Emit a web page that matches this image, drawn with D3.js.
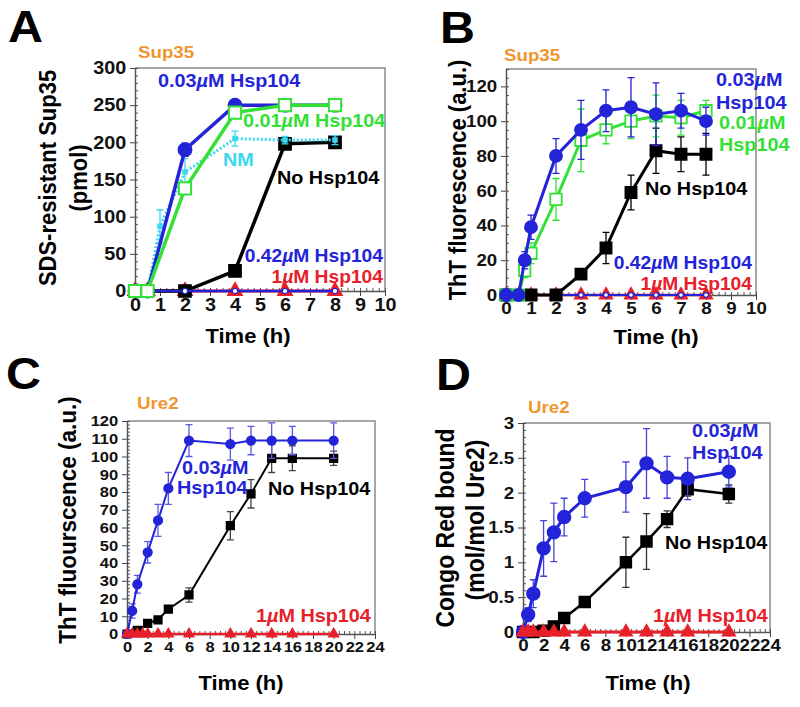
<!DOCTYPE html>
<html><head><meta charset="utf-8">
<script src="https://cdn.jsdelivr.net/npm/d3@7"></script>
<style>body{margin:0;background:#fff}</style>
</head><body><svg id="c" width="800" height="707" xmlns="http://www.w3.org/2000/svg"></svg>
<script>
// ---------- DATA ----------
// Panel A: Sup35, SDS-resistant Sup35 (pmol)
const aTime = [0, 0.5, 2, 4, 6, 8];
const aHsp003 = [0, 0, 190, 250, 250, 250];
const aHsp003Err = [0, 0, 9, 3, 0, 0];
const aHsp001 = [0, 0, 138, 240, 250, 250];
const aHsp001Err = [0, 0, 6, 5, 3, 3];
const aNMTime = [0, 0.5, 1, 2, 4, 6, 8];
const aNM = [0, 0, 87, 160, 205, 203, 203];
const aNMErr = [0, 0, 22, 18, 10, 5, 6];
const aNoTime = [0, 2, 4, 6, 8];
const aNoHsp = [0, 0, 27, 198, 200];
const aNoHspErr = [0, 0, 2, 6, 8];
const aHsp042 = [0, 0, 0, 0, 0, 0];
const aHsp1 = [0, 0, 0, 0, 0, 0];
const aXTicks = [0, 1, 2, 3, 4, 5, 6, 7, 8, 9, 10];
const aYTicks = [0, 50, 100, 150, 200, 250, 300];

// Panel B: Sup35, ThT fluorescence
const bTime = [0, 0.5, 0.75, 1, 2, 3, 4, 5, 6, 7, 8];
const bHsp003 = [0, 0, 20, 39, 80, 95, 106, 108, 104, 106, 100];
const bHsp003Err = [0, 0, 5, 7, 10, 17, 12, 17, 18, 10, 8];
const bHsp001 = [0, 0, 14, 24, 55, 89, 95, 100, 103, 102, 106];
const bHsp001Err = [0, 0, 4, 6, 12, 18, 8, 10, 12, 10, 6];
const bNoTime = [0, 1, 2, 3, 4, 5, 6, 7, 8];
const bNoHsp = [0, 0, 0, 12, 27, 59, 83, 81, 81];
const bNoHspErr = [0, 0, 0, 2, 9, 10, 13, 10, 12];
const bZeroTime = [0, 0.5, 1, 2, 3, 4, 5, 6, 7, 8];
const bHsp042 = [0, 0, 0, 0, 0, 0, 0, 0, 0, 0];
const bHsp1 = [0, 0, 0, 0, 0, 0, 0, 0, 0, 0];
const bXTicks = [0, 1, 2, 3, 4, 5, 6, 7, 8, 9, 10];
const bYTicks = [0, 20, 40, 60, 80, 100, 120];

// Panel C: Ure2, ThT fluorescence
const cTime = [0, 0.5, 1, 2, 3, 4, 6, 10, 12, 14, 16, 20];
const cHsp003 = [0, 13, 28, 46, 64, 82, 109, 107, 109, 109, 109, 109];
const cHsp003Err = [0, 4, 5, 6, 9, 9, 9, 9, 8, 10, 8, 10];
const cNoTime = [0, 1, 2, 3, 4, 6, 10, 12, 14, 16, 20];
const cNoHsp = [0, 2, 6, 8, 14, 22, 61, 79, 99, 99, 99];
const cNoHspErr = [0, 1, 1, 1, 2, 4, 8, 8, 8, 7, 4];
const cRedTime = [0, 0.5, 1, 1.5, 2, 3, 4, 6, 10, 12, 14, 16, 20];
const cHsp1 = [0, 0, 0, 0, 0, 0, 0, 0, 0, 0, 0, 0, 0];
const cXTicks = [0, 2, 4, 6, 8, 10, 12, 14, 16, 18, 20, 22, 24];
const cYTicks = [0, 10, 20, 30, 40, 50, 60, 70, 80, 90, 100, 110, 120];

// Panel D: Ure2, Congo Red bound
const dTime = [0, 0.5, 1, 2, 3, 4, 6, 10, 12, 14, 16, 20];
const dHsp003 = [0, 0.25, 0.55, 1.2, 1.43, 1.65, 1.92, 2.08, 2.42, 2.22, 2.2, 2.3];
const dHsp003Err = [0, 0.1, 0.2, 0.4, 0.42, 0.27, 0.27, 0.36, 0.5, 0.3, 0.3, 0.22];
const dNoTime = [0, 1, 2, 3, 4, 6, 10, 12, 14, 16, 20];
const dNoHsp = [0, 0, 0.02, 0.08, 0.2, 0.43, 1.0, 1.3, 1.62, 2.05, 1.98];
const dNoHspErr = [0, 0, 0, 0, 0, 0, 0.36, 0.4, 0.12, 0.1, 0.13];
const dHsp1 = [0, 0, 0, 0, 0, 0, 0, 0, 0, 0, 0, 0];
const dXTicks = [0, 2, 4, 6, 8, 10, 12, 14, 16, 18, 20, 22, 24];
const dYTicks = [0, 0.5, 1, 1.5, 2, 2.5, 3];

// ---------- STYLE ----------
const BLUE = "#2323d8", GREEN = "#33e036", CYAN = "#3ad8ee", RED = "#e8202a", ORANGE = "#f0952e", BLACK = "#000";
const FONT = '"Liberation Sans", Arial, Helvetica, sans-serif';
const SX = 1.1;
const svg = d3.select("#c");

function txt(g, x, y, s, o) {
  const t = g.append("text")
    .attr("transform", `translate(${x},${y}) scale(${SX},1)` + (o.rot ? ` rotate(${o.rot})` : ""))
    .attr("font-family", FONT).attr("font-size", o.size).attr("font-weight", "bold")
    .attr("fill", o.color || "#000").attr("text-anchor", o.anchor || "start");
  if (o.dy) t.attr("dy", o.dy);
  s.split("µ").forEach((p, i) => {
    if (i > 0) t.append("tspan").attr("font-style", "italic").text("µ");
    t.append("tspan").text(p);
  });
  return t;
}

function makePanel(cfg) {
  const g = svg.append("g");
  const x = d3.scaleLinear().domain(cfg.xDomain).range([cfg.left, cfg.right]);
  const y = d3.scaleLinear().domain(cfg.yDomain).range([cfg.bottom, cfg.top]);
  g.append("path").attr("d", `M${cfg.left},${cfg.top}H${cfg.right}V${cfg.bottom}`)
    .attr("fill", "none").attr("stroke", "#8a8a8a").attr("stroke-width", 1.5);
  const styleAxis = (sel, size) => {
    sel.select(".domain").attr("stroke", "#555").attr("stroke-width", 1.5);
    sel.selectAll(".tick line").attr("stroke", "#444").attr("stroke-width", 1);
    sel.selectAll(".tick text").attr("font-family", FONT).attr("font-weight", "bold")
      .attr("font-size", size).attr("fill", "#111")
      .attr("transform", `scale(${SX},1)`);
  };
  // minor ticks (inward)
  g.append("g").attr("transform", `translate(${cfg.left},0)`)
    .call(d3.axisLeft(y).tickValues(cfg.yMinor).tickSize(-3).tickSizeOuter(0).tickFormat(""))
    .call(s => { s.select(".domain").remove(); s.selectAll("line").attr("stroke", "#555"); });
  g.append("g").attr("transform", `translate(0,${cfg.bottom})`)
    .call(d3.axisBottom(x).tickValues(cfg.xMinor).tickSize(-3).tickSizeOuter(0).tickFormat(""))
    .call(s => { s.select(".domain").remove(); s.selectAll("line").attr("stroke", "#555"); });
  // major
  g.append("g").attr("transform", `translate(${cfg.left},0)`)
    .call(d3.axisLeft(y).tickValues(cfg.yTicks).tickSize(5).tickSizeOuter(0).tickPadding(3).tickFormat(d => d))
    .call(s => styleAxis(s, cfg.tickFont));
  g.append("g").attr("transform", `translate(0,${cfg.bottom})`)
    .call(d3.axisBottom(x).tickValues(cfg.xTicks).tickSize(5).tickSizeOuter(0).tickPadding(cfg.xPad || 2).tickFormat(d => d))
    .call(s => styleAxis(s, cfg.tickFont));
  return { g, x, y };
}

function drawSeries(p, xs, ys, es, st) {
  const { g, x, y } = p;
  const pts = xs.map((t, i) => ({ t, v: ys[i], e: es ? es[i] : 0 }));
  const cap = st.cap || 3.5;
  pts.filter(d => d.e > 0).forEach(d => {
    g.append("path")
      .attr("d", `M${x(d.t)},${y(d.v - d.e)}V${y(d.v + d.e)}M${x(d.t) - cap},${y(d.v + d.e)}h${2 * cap}M${x(d.t) - cap},${y(d.v - d.e)}h${2 * cap}`)
      .attr("stroke", st.errColor || st.color).attr("stroke-width", 1.3).attr("fill", "none");
  });
  g.append("path").datum(pts)
    .attr("d", d3.line().x(d => x(d.t)).y(d => y(d.v)))
    .attr("fill", "none").attr("stroke", st.color).attr("stroke-width", st.width)
    .attr("stroke-dasharray", st.dash || null);
  if (st.symbol) {
    g.selectAll(null).data(pts).join("path")
      .attr("transform", d => `translate(${x(d.t)},${y(d.v)})`)
      .attr("d", d3.symbol(st.symbol, st.size))
      .attr("fill", st.fill).attr("stroke", st.stroke || st.color).attr("stroke-width", st.sw || 1.5);
  }
}

// ---------- PANEL A ----------
const pA = makePanel({ left: 135, right: 385, top: 68, bottom: 291, xDomain: [0, 10], yDomain: [0, 300],
  xTicks: aXTicks, yTicks: aYTicks, xMinor: d3.range(0, 10.001, 0.25), yMinor: d3.range(0, 300.1, 10), tickFont: 18 });
drawSeries(pA, aTime, aHsp1, null, { color: RED, width: 3, symbol: d3.symbolTriangle, size: 90, fill: RED });
drawSeries(pA, aNoTime, aNoHsp, aNoHspErr, { color: BLACK, width: 3.5, symbol: d3.symbolSquare, size: 150, fill: BLACK });
drawSeries(pA, aTime, aHsp042, null, { color: BLUE, width: 2.5, symbol: d3.symbolCircle, size: 22, fill: "#fff", sw: 1.2 });
drawSeries(pA, aNMTime, aNM, aNMErr, { color: CYAN, width: 3, dash: "2,2", symbol: d3.symbolSquare, size: 16, fill: CYAN });
drawSeries(pA, aTime, aHsp003, aHsp003Err, { color: BLUE, width: 3.5, symbol: d3.symbolCircle, size: 140, fill: BLUE });
drawSeries(pA, aTime, aHsp001, aHsp001Err, { color: GREEN, width: 3.5, symbol: d3.symbolSquare, size: 150, fill: "#fff", sw: 2 });

// ---------- PANEL B ----------
const pB = makePanel({ left: 506, right: 756, top: 69, bottom: 295, xDomain: [0, 10], yDomain: [0, 130],
  xTicks: bXTicks, yTicks: bYTicks, xMinor: d3.range(0, 10.001, 0.25), yMinor: d3.range(0, 130.1, 5), tickFont: 17 });
drawSeries(pB, bZeroTime, bHsp1, null, { color: RED, width: 2.5, symbol: d3.symbolTriangle, size: 70, fill: RED });
drawSeries(pB, bZeroTime, bHsp042, null, { color: BLUE, width: 2, symbol: d3.symbolCircle, size: 18, fill: "#fff", sw: 1.2 });
drawSeries(pB, bNoTime, bNoHsp, bNoHspErr, { color: BLACK, width: 3, symbol: d3.symbolSquare, size: 130, fill: BLACK });
drawSeries(pB, bTime, bHsp001, bHsp001Err, { color: GREEN, width: 3, symbol: d3.symbolSquare, size: 130, fill: "#fff", sw: 1.8 });
drawSeries(pB, bTime, bHsp003, bHsp003Err, { color: BLUE, width: 3, symbol: d3.symbolCircle, size: 120, fill: BLUE });

// ---------- PANEL C ----------
const pC = makePanel({ left: 127, right: 375, top: 421, bottom: 634, xDomain: [0, 24], yDomain: [0, 120],
  xTicks: cXTicks, yTicks: cYTicks, xMinor: d3.range(0, 24.001, 0.5), yMinor: d3.range(0, 120.1, 2), tickFont: 15 });
drawSeries(pC, cNoTime, cNoHsp, cNoHspErr, { color: BLACK, width: 2, symbol: d3.symbolSquare, size: 60, fill: BLACK, errColor: "#444" });
drawSeries(pC, cTime, cHsp003, cHsp003Err, { color: BLUE, width: 2, symbol: d3.symbolCircle, size: 60, fill: BLUE, errColor: "#5a5ae0" });
drawSeries(pC, cRedTime, cHsp1, null, { color: RED, width: 2.5, symbol: d3.symbolTriangle, size: 40, fill: RED });

// ---------- PANEL D ----------
const pD = makePanel({ left: 523, right: 770, top: 423, bottom: 632, xDomain: [0, 24], yDomain: [0, 3],
  xTicks: dXTicks, yTicks: dYTicks, xMinor: d3.range(0, 24.001, 0.5), yMinor: d3.range(0, 3.001, 0.1), tickFont: 17 });
drawSeries(pD, dNoTime, dNoHsp, dNoHspErr, { color: BLACK, width: 2.5, symbol: d3.symbolSquare, size: 120, fill: BLACK, errColor: "#333" });
drawSeries(pD, dTime, dHsp003, dHsp003Err, { color: BLUE, width: 3, symbol: d3.symbolCircle, size: 130, fill: BLUE, errColor: "#4444dd" });
drawSeries(pD, dTime, dHsp1, null, { color: RED, width: 3, symbol: d3.symbolTriangle, size: 70, fill: RED });

// ---------- TEXT ----------
const T = svg.append("g");
// panel letters
txt(T, 8, 42, "A", { size: 44 });
txt(T, 440, 43, "B", { size: 44 });
txt(T, 6, 389, "C", { size: 44 });
txt(T, 436, 390, "D", { size: 44 });
// protein titles
txt(T, 138, 58, "Sup35", { size: 17, color: ORANGE });
txt(T, 504, 61, "Sup35", { size: 17, color: ORANGE });
txt(T, 137, 409, "Ure2", { size: 17, color: ORANGE });
txt(T, 528, 413, "Ure2", { size: 17, color: ORANGE });
// y-axis titles
txt(T, 47, 178, "SDS-resistant Sup35", { size: 22, rot: -90, anchor: "middle", dy: "0.36em" });
txt(T, 78, 178, "(pmol)", { size: 22, rot: -90, anchor: "middle", dy: "0.36em" });
txt(T, 457, 180, "ThT fluorescence (a.u.)", { size: 22, rot: -90, anchor: "middle", dy: "0.36em" });
txt(T, 67, 520, "ThT fluourscence (a.u.)", { size: 22.5, rot: -90, anchor: "middle", dy: "0.36em" });
txt(T, 445, 528, "Congo Red bound", { size: 23, rot: -90, anchor: "middle", dy: "0.36em" });
txt(T, 475, 520, "(mol/mol Ure2)", { size: 23, rot: -90, anchor: "middle", dy: "0.36em" });
// x-axis titles
txt(T, 248, 343, "Time (h)", { size: 20, anchor: "middle" });
txt(T, 656, 344, "Time (h)", { size: 20, anchor: "middle" });
txt(T, 241, 690, "Time (h)", { size: 20, anchor: "middle" });
txt(T, 648, 690, "Time (h)", { size: 20, anchor: "middle" });
// annotations A
txt(T, 158, 87, "0.03µM Hsp104", { size: 18, color: BLUE });
txt(T, 243, 127, "0.01µM Hsp104", { size: 18, color: GREEN });
txt(T, 223, 166, "NM", { size: 18, color: CYAN });
txt(T, 277, 184, "No Hsp104", { size: 18, color: BLACK });
txt(T, 383, 262, "0.42µM Hsp104", { size: 17.5, color: BLUE, anchor: "end" });
txt(T, 383, 283, "1µM Hsp104", { size: 17.5, color: RED, anchor: "end" });
// annotations B
txt(T, 716, 86, "0.03µM", { size: 18, color: BLUE });
txt(T, 716, 109, "Hsp104", { size: 18, color: BLUE });
txt(T, 719, 129, "0.01µM", { size: 18, color: GREEN });
txt(T, 719, 151, "Hsp104", { size: 18, color: GREEN });
txt(T, 645, 195, "No Hsp104", { size: 18, color: BLACK });
txt(T, 752, 269, "0.42µM Hsp104", { size: 17.5, color: BLUE, anchor: "end" });
txt(T, 752, 290, "1µM Hsp104", { size: 17.5, color: RED, anchor: "end" });
// annotations C
txt(T, 182, 474, "0.03µM", { size: 18, color: BLUE });
txt(T, 177, 494, "Hsp104", { size: 18, color: BLUE });
txt(T, 268, 495, "No Hsp104", { size: 18, color: BLACK });
txt(T, 256, 622, "1µM Hsp104", { size: 18, color: RED });
// annotations D
txt(T, 692, 437, "0.03µM", { size: 18, color: BLUE });
txt(T, 692, 459, "Hsp104", { size: 18, color: BLUE });
txt(T, 665, 549, "No Hsp104", { size: 18, color: BLACK });
txt(T, 653, 622, "1µM Hsp104", { size: 18, color: RED });
</script>
</body></html>
